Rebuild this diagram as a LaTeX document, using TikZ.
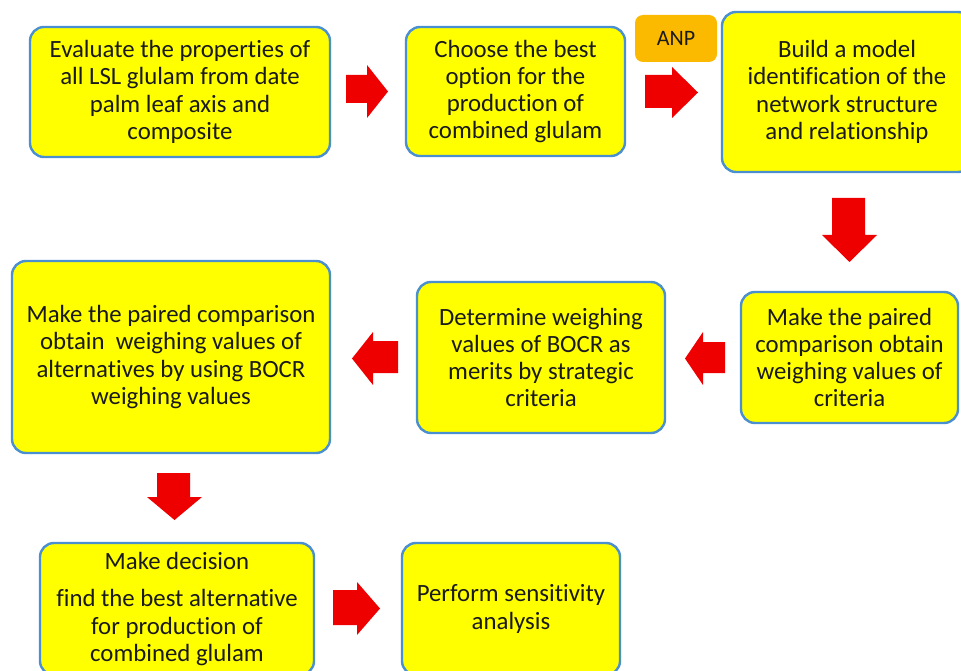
\documentclass[tikz,border=0pt]{standalone}
\usepackage{fontspec}
\setmainfont{Carlito}[Ligatures=NoCommon]
\definecolor{boxyellow}{HTML}{FFFF00}
\definecolor{boxblue}{HTML}{4A8FD0}
\definecolor{arrred}{HTML}{EE0000}
\definecolor{anporange}{HTML}{FBBA00}
\definecolor{txt}{HTML}{1A1A1A}
\tikzset{
  stepbox/.style={draw=boxblue, line width=2.4pt, fill=boxyellow, rounded corners=14pt,
    align=center, inner sep=0pt, text=txt, font=\fontsize{24.8}{27.3}\selectfont},
  blockarrow/.style={fill=arrred, draw=none},
}
\begin{document}
\begin{tikzpicture}[x=1pt,y=-1pt]
\useasboundingbox (0,0) rectangle (961,671);
\clip (0,0) rectangle (961,671);
% boxes
\node[stepbox, minimum width=300pt, minimum height=130pt] (b1) at (180,92)
  {Evaluate the properties of\\all LSL glulam from date\\palm leaf axis and\\composite};
\node[stepbox, minimum width=219pt, minimum height=129pt] (b2) at (515.5,91.5)
  {Choose the best\\option for the\\production of\\combined glulam};
\node[fill=anporange, rounded corners=8pt, minimum width=82pt, minimum height=47pt,
  inner sep=0pt, text=txt, font=\fontsize{22}{24}\selectfont] (anp) at (676,38.5) {ANP};
\node[stepbox, minimum width=250pt, minimum height=160pt] (b3) at (847,92)
  {Build a model\\identification of the\\network structure\\and relationship};
\node[stepbox, minimum width=217pt, minimum height=131pt] (b4) at (849.5,357.5)
  {Make the paired\\comparison obtain\\weighing values of\\criteria};
\node[stepbox, minimum width=248pt, minimum height=151pt] (b5) at (541,357.5)
  {Determine weighing\\values of BOCR as\\merits by strategic\\criteria};
\node[stepbox, minimum width=318pt, minimum height=192pt] (b6) at (171,357)
  {Make the paired comparison\\obtain\ \ weighing values of\\alternatives by using BOCR\\weighing values};
\node[stepbox, minimum width=274pt, minimum height=132pt] (b7) at (177,609)
  {Make decision\\[10pt]find the best alternative\\for production of\\combined glulam};
\node[stepbox, minimum width=218pt, minimum height=132pt] (b8) at (511,609)
  {Perform sensitivity\\analysis};
% block arrows
\fill[blockarrow] (346,75) -- (367,75) -- (367,65) -- (388,91.5) -- (367,118) -- (367,103) -- (346,103) -- cycle;
\fill[blockarrow] (645,75) -- (672,75) -- (672,67) -- (698,92.5) -- (672,118) -- (672,108) -- (645,108) -- cycle;
\fill[blockarrow] (832,198) -- (865,198) -- (865,235) -- (877,235) -- (849.5,262) -- (822,235) -- (832,235) -- cycle;
\fill[blockarrow] (725,342) -- (703,342) -- (703,332) -- (685,358.5) -- (703,385) -- (703,373) -- (725,373) -- cycle;
\fill[blockarrow] (398,341) -- (373,341) -- (373,332) -- (352,358.5) -- (373,385) -- (373,373) -- (398,373) -- cycle;
\fill[blockarrow] (157,473) -- (190,473) -- (190,497) -- (202,497) -- (174.5,520) -- (147,497) -- (157,497) -- cycle;
\fill[blockarrow] (333,590) -- (357,590) -- (357,582) -- (380,608.5) -- (357,635) -- (357,625) -- (333,625) -- cycle;
\end{tikzpicture}
\end{document}
